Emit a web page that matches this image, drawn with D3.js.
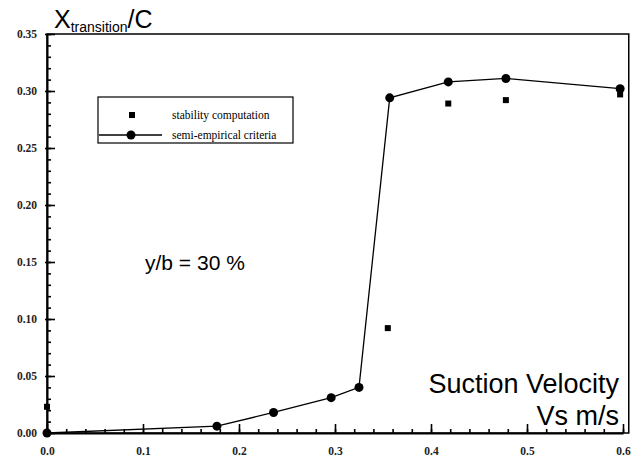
<!DOCTYPE html>
<html>
<head>
<meta charset="utf-8">
<script src="https://cdn.jsdelivr.net/npm/d3@7"></script>
<style>
  body { margin: 0; background: #fff; }
  svg { display: block; }
</style>
</head>
<body>
<div id="chart"></div>
<script>
// data
var semiX = [0.0, 0.177, 0.236, 0.296, 0.325, 0.357, 0.418, 0.478, 0.597];
var semiY = [0.0, 0.006, 0.018, 0.031, 0.040, 0.294, 0.308, 0.311, 0.302];
var stabX = [0.0, 0.355, 0.418, 0.478, 0.597];
var stabY = [0.023, 0.092, 0.289, 0.292, 0.297];
var xTicks = [0.0, 0.1, 0.2, 0.3, 0.4, 0.5, 0.6];
var yTicks = [0.00, 0.05, 0.10, 0.15, 0.20, 0.25, 0.30, 0.35];

var width = 640, height = 461;

var x = d3.scaleLinear().domain([0, 0.6]).range([47, 623]);
var y = d3.scaleLinear().domain([0, 0.35]).range([433, 34]);

var svg = d3.select("#chart").append("svg")
  .attr("width", width)
  .attr("height", height);

// frame
svg.append("rect")
  .attr("x", x(0))
  .attr("y", y(0.35))
  .attr("width", x(0.606) - x(0))
  .attr("height", y(0) - y(0.35))
  .attr("fill", "none")
  .attr("stroke", "black")
  .attr("stroke-width", 1.5);

// minor ticks
var yMinor = d3.range(0, 36).map(d => d / 100);
var yMin = svg.append("g")
  .attr("transform", "translate(" + x(0) + ",0)")
  .call(d3.axisLeft(y).tickValues(yMinor).tickSize(-4).tickFormat(""));
yMin.select(".domain").remove();

var xMinor = d3.range(0, 31).map(d => d / 50);
var xMin = svg.append("g")
  .attr("transform", "translate(0," + y(0) + ")")
  .call(d3.axisBottom(x).tickValues(xMinor).tickSize(-4).tickFormat(""));
xMin.select(".domain").remove();

// major ticks + labels
var yAxis = svg.append("g")
  .attr("transform", "translate(" + x(0) + ",0)")
  .call(d3.axisLeft(y).tickValues(yTicks).tickSize(-8).tickPadding(10).tickSizeOuter(0).tickFormat(d3.format(".2f")));
yAxis.select(".domain").attr("stroke-width", 2);
yAxis.selectAll(".tick line").attr("x1", -2);

var xAxis = svg.append("g")
  .attr("transform", "translate(0," + y(0) + ")")
  .call(d3.axisBottom(x).tickValues(xTicks).tickSize(-9).tickPadding(14).tickSizeOuter(0).tickFormat(d3.format(".1f")));
xAxis.select(".domain").attr("stroke-width", 2);

svg.selectAll(".tick line").attr("stroke", "black").attr("stroke-width", 1.6);
svg.selectAll(".tick text")
  .attr("font-family", "Liberation Serif")
  .attr("font-weight", "bold")
  .attr("font-size", 11.5)
  .attr("fill", "#222");

// semi-empirical line
var semi = semiX.map((d, i) => ({x: d, y: semiY[i]}));
var line = d3.line().x(d => x(d.x)).y(d => y(d.y));

svg.append("path")
  .attr("d", line(semi))
  .attr("fill", "none")
  .attr("stroke", "black")
  .attr("stroke-width", 1.3);

svg.selectAll(".semi")
  .data(semi)
  .enter().append("circle")
  .attr("cx", d => x(d.x))
  .attr("cy", d => y(d.y))
  .attr("r", 4.5)
  .attr("fill", "black");

// stability squares
var stab = stabX.map((d, i) => ({x: d, y: stabY[i]}));
svg.selectAll(".stab")
  .data(stab)
  .enter().append("rect")
  .attr("x", d => x(d.x) - 3)
  .attr("y", d => y(d.y) - 3)
  .attr("width", 6)
  .attr("height", 6)
  .attr("fill", "black");

// legend
var lg = svg.append("g");
lg.append("rect")
  .attr("x", 98).attr("y", 97)
  .attr("width", 195).attr("height", 46)
  .attr("fill", "white")
  .attr("stroke", "black")
  .attr("stroke-width", 1.2);
lg.append("rect")
  .attr("x", 129).attr("y", 112)
  .attr("width", 6).attr("height", 6)
  .attr("fill", "black");
lg.append("line")
  .attr("x1", 99).attr("x2", 162)
  .attr("y1", 135).attr("y2", 135)
  .attr("stroke", "black").attr("stroke-width", 1.3);
lg.append("circle")
  .attr("cx", 131).attr("cy", 135).attr("r", 4.5)
  .attr("fill", "black");
lg.append("text")
  .attr("x", 172).attr("y", 119)
  .attr("font-family", "Liberation Serif")
  .attr("font-size", 11.5)
  .text("stability computation");
lg.append("text")
  .attr("x", 172).attr("y", 139)
  .attr("font-family", "Liberation Serif")
  .attr("font-size", 11.5)
  .text("semi-empirical criteria");

// title
var title = svg.append("text")
  .attr("x", 54).attr("y", 28)
  .attr("font-family", "Liberation Sans")
  .attr("font-size", 25);
title.append("tspan").text("X");
title.append("tspan").attr("font-size", 14).attr("dy", 4).text("transition");
title.append("tspan").attr("dy", -4).text("/C");

// annotations
svg.append("text")
  .attr("x", 145).attr("y", 270)
  .attr("font-family", "Liberation Sans")
  .attr("font-size", 21)
  .text("y/b = 30 %");

svg.append("text")
  .attr("x", 619).attr("y", 393)
  .attr("text-anchor", "end")
  .attr("font-family", "Liberation Sans")
  .attr("font-size", 27)
  .text("Suction Velocity");

svg.append("text")
  .attr("x", 619).attr("y", 425)
  .attr("text-anchor", "end")
  .attr("font-family", "Liberation Sans")
  .attr("font-size", 27)
  .text("Vs m/s");
</script>
</body>
</html>
